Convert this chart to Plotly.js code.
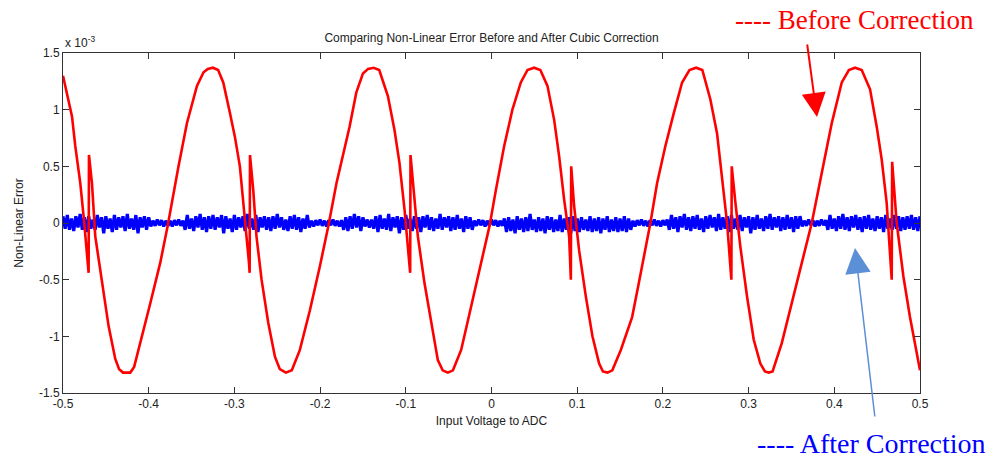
<!DOCTYPE html>
<html>
<head>
<meta charset="utf-8">
<script src="https://cdn.plot.ly/plotly-3.0.1.min.js"></script>
<style>html,body{margin:0;padding:0;background:#fff;}#chart{width:987px;height:458px;}</style>
</head>
<body>
<div id="chart"></div>
<script>
// Values in units of 1e-3 (axis shows "x 10^-3")
const beforeX = [-0.5,-0.4953,-0.4895,-0.4857,-0.4798,-0.4752,-0.4701,-0.4697,-0.4662,-0.4623,-0.4545,-0.4468,-0.4390,-0.4345,-0.4300,-0.4260,-0.4215,-0.4170,-0.4098,-0.3982,-0.3865,-0.3780,-0.3652,-0.3554,-0.3437,-0.3360,-0.3310,-0.3250,-0.3190,-0.3130,-0.3052,-0.2994,-0.2936,-0.2877,-0.2830,-0.2822,-0.2818,-0.2780,-0.2742,-0.2683,-0.2605,-0.2527,-0.2470,-0.2400,-0.2330,-0.2236,-0.2119,-0.2002,-0.1905,-0.1809,-0.1656,-0.1578,-0.1500,-0.1440,-0.1375,-0.1310,-0.1209,-0.1132,-0.1074,-0.1015,-0.0955,-0.0949,-0.0945,-0.0899,-0.0859,-0.0782,-0.0704,-0.0626,-0.0570,-0.0509,-0.0450,-0.0354,-0.0257,-0.0140,-0.0024,0.0051,0.0148,0.0244,0.0342,0.0420,0.0497,0.0570,0.0653,0.0731,0.0789,0.0847,0.0906,0.0926,0.0930,0.0964,0.1022,0.1101,0.1178,0.1256,0.1300,0.1353,0.1410,0.1509,0.1641,0.1719,0.1796,0.1854,0.1932,0.2029,0.2127,0.2224,0.2310,0.2387,0.2460,0.2554,0.2632,0.2690,0.2749,0.2799,0.2803,0.2846,0.2904,0.2982,0.3060,0.3137,0.3190,0.3235,0.3280,0.3387,0.3503,0.3620,0.3737,0.3853,0.3970,0.4087,0.4170,0.4242,0.4320,0.4417,0.4495,0.4553,0.4611,0.4670,0.4675,0.4728,0.4806,0.4883,0.4942,0.5000];
const beforeY = [1.30,1.15,0.94,0.68,0.35,0.00,-0.44,0.60,0.35,-0.12,-0.53,-0.91,-1.20,-1.29,-1.32,-1.32,-1.32,-1.27,-1.06,-0.71,-0.35,-0.03,0.50,0.88,1.21,1.33,1.36,1.37,1.35,1.24,0.97,0.76,0.50,0.06,-0.35,-0.44,0.60,0.29,-0.12,-0.50,-0.88,-1.18,-1.29,-1.32,-1.30,-1.12,-0.77,-0.38,-0.03,0.35,0.85,1.15,1.32,1.36,1.37,1.35,1.12,0.82,0.53,0.12,-0.35,-0.44,0.60,0.23,-0.12,-0.53,-0.88,-1.21,-1.30,-1.32,-1.30,-1.12,-0.80,-0.41,-0.03,0.29,0.68,1.00,1.24,1.35,1.37,1.35,1.21,0.91,0.59,0.21,-0.12,-0.50,0.50,0.15,-0.24,-0.65,-1.00,-1.24,-1.31,-1.32,-1.30,-1.12,-0.83,-0.53,-0.24,0.00,0.35,0.68,0.97,1.24,1.35,1.37,1.35,1.09,0.79,0.41,0.00,-0.50,0.50,0.18,-0.21,-0.65,-1.03,-1.24,-1.31,-1.32,-1.31,-1.06,-0.71,-0.35,0.00,0.44,0.88,1.24,1.35,1.37,1.35,1.18,0.85,0.56,0.18,-0.50,0.54,0.00,-0.47,-0.83,-1.06,-1.30];

// After correction: samples every 0.0025 from -0.5 (x0/dx handled by Plotly)
const afterY = [
0.06,-0.05,0.07,-0.06,0.04,-0.07,0.06,-0.04,0.08,-0.06,
0.05,-0.08,0.06,-0.05,0.03,-0.06,0.07,-0.04,0.05,-0.09,
0.06,-0.05,0.04,-0.08,0.07,-0.06,0.05,-0.04,0.06,-0.07,
0.08,-0.05,0.04,-0.06,0.07,-0.09,0.05,-0.04,0.06,-0.06,
0.05,
-0.03,0.02,-0.025,0.03,-0.02,0.025,-0.03,0.02,-0.025,0.02,-0.03,0.025,-0.02,0.03,-0.025,0.02,
-0.06,0.07,-0.05,0.04,-0.07,0.06,-0.04,0.08,-0.06,0.05,
-0.08,0.06,-0.05,0.07,-0.06,0.05,-0.04,0.07,-0.09,0.06,
-0.05,0.04,-0.08,0.07,-0.06,0.05,-0.04,0.06,-0.07,0.08,
-0.05,0.04,-0.06,0.07,-0.08,0.05,-0.04,0.06,-0.06,0.05,
-0.07,0.06,-0.05,0.08,-0.04,0.05,-0.06,0.03,-0.07,0.06,
-0.05,0.07,-0.06,0.05,-0.08,0.04,-0.05,0.07,-0.04,
0.02,-0.03,0.025,-0.02,0.03,-0.025,0.02,-0.03,0.025,-0.02,0.03,-0.025,0.02,-0.03,0.025,
-0.06,0.05,-0.07,0.06,-0.05,0.08,-0.04,0.06,-0.07,0.05,
-0.03,0.03,-0.04,0.03,-0.05,0.06,-0.08,0.07,-0.05,0.04,
-0.06,0.08,-0.07,0.05,-0.04,0.06,-0.09,0.05,-0.06,0.07,
-0.05,0.04,-0.07,0.06,-0.05,0.05,-0.08,0.06,-0.04,0.07,
-0.06,0.05,-0.07,0.04,-0.05,0.08,-0.06,0.05,-0.04,0.06,
-0.07,0.05,-0.06,0.07,-0.05,0.04,-0.08,0.06,-0.05,0.05,
-0.06,
0.02,-0.025,0.03,-0.02,0.025,-0.03,0.02,-0.025,0.03,-0.02,0.025,-0.03,0.02,-0.025,
0.04,-0.08,0.05,-0.07,0.03,-0.09,0.06,-0.06,0.04,-0.08,
0.05,-0.07,0.08,-0.06,0.03,-0.08,0.05,-0.07,0.04,-0.09,
0.06,-0.06,0.05,-0.08,0.03,-0.07,0.07,-0.08,0.04,-0.06,
0.05,-0.09,0.06,-0.07,0.04,-0.08,0.05,-0.06,0.03,-0.07,
0.06,-0.08,0.04,-0.07,0.05,-0.09,0.04,-0.06,0.06,-0.08,
0.03,-0.07,0.05,-0.08,0.04,-0.07,0.06,-0.08,0.04,-0.06,
0.02,-0.03,0.025,-0.02,0.03,-0.025,0.02,-0.03,0.025,-0.02,0.03,-0.025,0.02,-0.03,0.025,-0.02,0.03,
-0.06,0.07,-0.05,0.05,-0.08,0.06,-0.04,0.08,-0.06,0.05,
-0.07,0.06,-0.05,0.07,-0.06,0.04,-0.08,0.06,-0.05,0.07,
-0.04,0.05,-0.07,0.08,-0.06,0.05,-0.05,0.06,-0.08,0.07,
-0.05,0.04,-0.06,0.07,-0.07,0.05,-0.04,0.06,-0.09,0.05,
-0.06,0.07,-0.05,0.04,-0.07,0.06,-0.05,0.08,-0.06,0.05,
-0.04,0.06,-0.07,0.05,-0.06,0.07,-0.05,0.05,-0.08,0.06,
-0.05,0.06,
-0.03,0.02,-0.025,0.03,-0.02,0.025,-0.03,0.02,-0.025,0.03,-0.02,0.025,
-0.06,0.07,-0.05,0.04,-0.07,0.06,-0.05,0.08,-0.06,0.05,
-0.07,0.06,-0.04,0.07,-0.06,0.05,-0.08,0.06,-0.05,0.07,
-0.06,0.04,-0.07,0.06,-0.05,0.05,-0.08,0.07,-0.05,0.04,
-0.06,0.07,-0.05,0.06,-0.07,0.05,-0.06,0.06,-0.05,0.07,
-0.06,0.05,-0.07,0.06
];

const xTickVals = [-0.5,-0.4,-0.3,-0.2,-0.1,0,0.1,0.2,0.3,0.4,0.5];
const xTickText = ['-0.5','-0.4','-0.3','-0.2','-0.1','0','0.1','0.2','0.3','0.4','0.5'];
const yTickVals = [-1.5,-1,-0.5,0,0.5,1,1.5];
const yTickText = ['-1.5','-1','-0.5','0','0.5','1','1.5'];

const axisFont = {family:'"Liberation Sans", Arial, sans-serif', size:12, color:'#222'};

const traces = [
  {type:'scatter', mode:'lines', name:'After Correction', y: afterY, x0:-0.5, dx:0.0025,
   line:{color:'#0000ff', width:3.2}, hoverinfo:'skip'},
  {type:'scatter', mode:'lines', name:'Before Correction', x: beforeX, y: beforeY,
   line:{color:'#ff0000', width:2.6}, hoverinfo:'skip'}
];

const axisCommon = {showline:true, linecolor:'#333', linewidth:1, mirror:'ticks', ticks:'inside',
  ticklen:6, tickcolor:'#333', showgrid:false, zeroline:false, tickfont:axisFont, fixedrange:true};

const layout = {
  width:987, height:458,
  margin:{l:63, r:67, t:53, b:65},
  paper_bgcolor:'#fff', plot_bgcolor:'#fff',
  showlegend:false,
  font:axisFont,
  title:{text:'Comparing Non-Linear Error Before and After Cubic Correction', font:{family:'"Liberation Sans", Arial, sans-serif', size:12, color:'#222'},
         x:0.5, xref:'paper', y:1-38/458, yref:'container', yanchor:'middle'},
  xaxis:Object.assign({}, axisCommon, {range:[-0.5,0.5], tickvals:xTickVals, ticktext:xTickText,
         title:{text:'Input Voltage to ADC', font:axisFont, standoff:6}}),
  yaxis:Object.assign({}, axisCommon, {range:[-1.5,1.5], tickvals:yTickVals, ticktext:yTickText,
         title:{text:'Non-Linear Error', font:axisFont, standoff:12}}),
  annotations:[
    {xref:'paper', yref:'paper', x:0, y:1, xanchor:'left', yanchor:'bottom', yshift:1, showarrow:false,
     text:'x 10<sup>-3</sup>', font:axisFont},
    {xref:'paper', yref:'paper', x:(733-63)/857, y:(393-20)/340, xanchor:'left', yanchor:'middle', showarrow:false,
     text:'---- Before Correction', font:{family:'"Liberation Serif", "DejaVu Serif", serif', size:27, color:'#ff0000'}},
    {xref:'paper', yref:'paper', x:(755-63)/857, y:(393-443)/340, xanchor:'left', yanchor:'middle', showarrow:false,
     text:'---- After Correction', font:{family:'"Liberation Serif", "DejaVu Serif", serif', size:28, color:'#0000ff'}},
    {xref:'paper', yref:'paper', x:(817-63)/857, y:(393-117)/340, text:'', showarrow:true,
     axref:'pixel', ayref:'pixel', ax:-10, ay:-74, arrowhead:2, arrowsize:2.4, arrowwidth:2, arrowcolor:'#ff0000'},
    {xref:'paper', yref:'paper', x:(855-63)/857, y:(393-248)/340, text:'', showarrow:true,
     axref:'pixel', ayref:'pixel', ax:20, ay:170, arrowhead:2, arrowsize:3.4, arrowwidth:1.5, arrowcolor:'#5b8fd6'}
  ]
};

Plotly.newPlot('chart', traces, layout, {staticPlot:true, displayModeBar:false});
</script>
</body>
</html>
